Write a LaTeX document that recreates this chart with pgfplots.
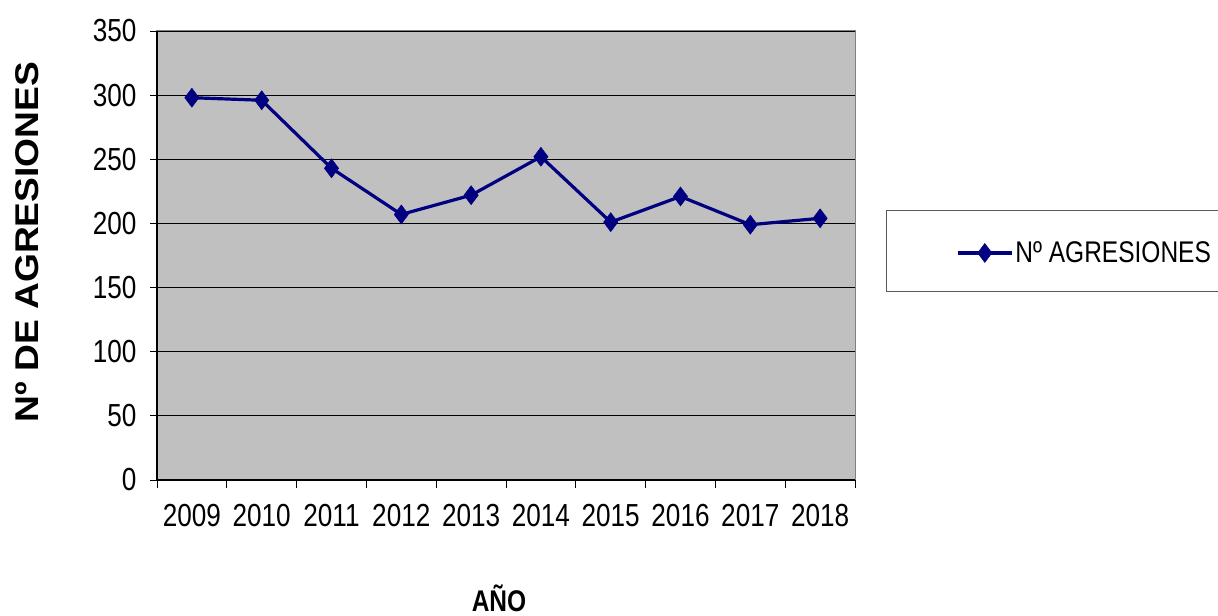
\documentclass[border=0pt]{standalone}
\usepackage{pgfplots}
\pgfplotsset{compat=1.18}
\usepackage{fontspec}
\setmainfont{Liberation Sans}
\newfontfamily\narrow{Liberation Sans}[FakeStretch=0.82]
\newfontfamily\wide{Liberation Sans}[FakeStretch=1.13]
\definecolor{navyline}{HTML}{000080}
\definecolor{plotbg}{HTML}{C0C0C0}

\begin{document}
\begin{tikzpicture}[x=1bp,y=1bp]
\useasboundingbox (-157,-136) rectangle (1061,480);
\begin{axis}[
  at={(0,0)}, anchor=south west,
  scale only axis, width=698bp, height=449bp,
  xmin=-0.5, xmax=9.5, ymin=0, ymax=350,
  xtick={0,...,9},
  xticklabels={2009,2010,2011,2012,2013,2014,2015,2016,2017,2018},
  major x tick style={draw=none},
  minor xtick={-0.5,0.5,...,9.5},
  ytick={0,50,...,350},
  tick pos=left,
  ymajorgrids, grid style={black, line width=0.8bp},
  tick align=outside, major tick length=7bp, minor tick length=8bp,
  tick style={black, line width=0.8bp},
  axis background/.style={fill=plotbg},
  axis line style={draw=gray, line width=1bp},
  /pgf/number format/assume math mode=true,
  ticklabel style={font=\narrow\fontsize{32}{38}\selectfont},
  xticklabel style={yshift=-14bp},
  yticklabel style={xshift=-10bp},
  xlabel={AÑO},
  xlabel style={font=\narrow\bfseries\fontsize{30}{36}\selectfont, inner sep=0pt, at={(axis description cs:0.49,-0.292)}, anchor=base},
  ylabel={Nº DE AGRESIONES},
  ylabel style={font=\wide\bfseries\fontsize{33}{38}\selectfont, at={(axis description cs:-0.186,0.53)}, anchor=center},
  legend style={at={(axis description cs:1.1447,0.5056)}, anchor=west, draw=none, fill=none, inner sep=0pt,
    nodes={inner sep=2bp}, font=\narrow\fontsize{30}{36}\selectfont},
  legend image code/.code={\draw[mark repeat=2,mark phase=2] plot coordinates {(0bp,0bp) (27bp,0bp) (54bp,0bp)};},
  clip=false,
]
\addplot[navyline, line width=3.2bp, mark=diamond*, mark size=9.5bp, mark options={fill=navyline, draw=navyline, line width=0.5bp}]
  coordinates {(0,298) (1,296) (2,243) (3,207) (4,222) (5,252) (6,201) (7,221) (8,199) (9,204)};
\addlegendentry{Nº AGRESIONES}
\draw[black, line width=1.2bp] (rel axis cs:0,1) -- (rel axis cs:0,0) -- (rel axis cs:1,0);
\draw[gray!70!black, line width=1bp] (axis description cs:1.0458,0.6013) -- (axis description cs:1.54,0.6013)
  (axis description cs:1.0458,0.4187) -- (axis description cs:1.54,0.4187)
  (axis description cs:1.0458,0.6013) -- (axis description cs:1.0458,0.4187);
\end{axis}
\end{tikzpicture}
\end{document}
